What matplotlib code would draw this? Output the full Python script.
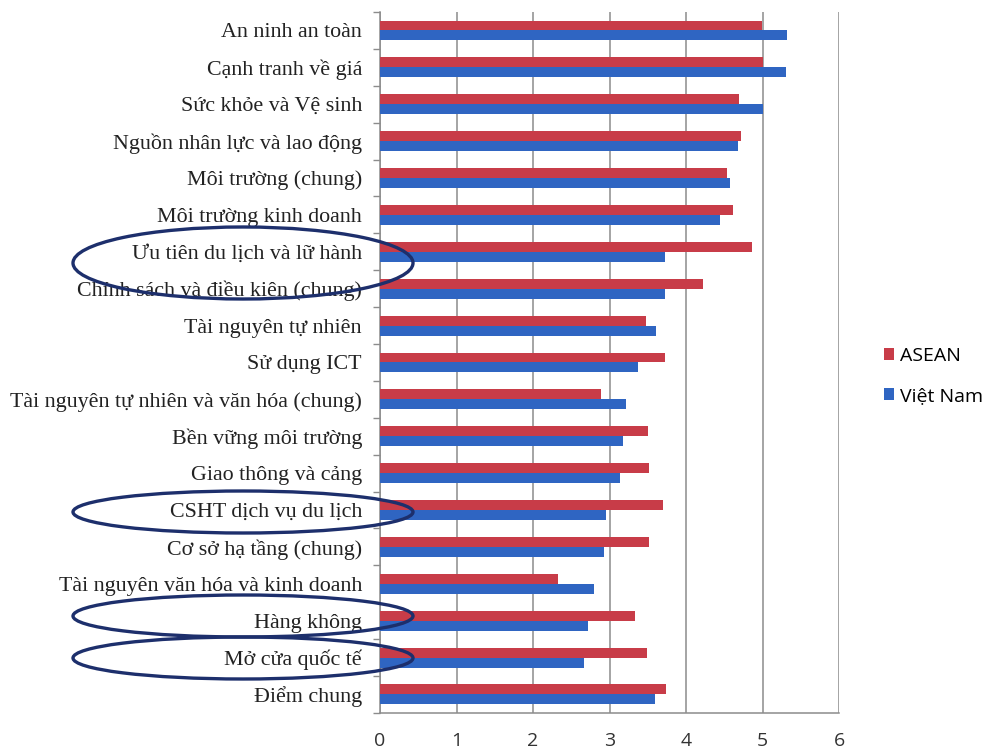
import numpy as np
from matplotlib import pyplot as plt
from matplotlib.patches import Ellipse

categories = [
    "An ninh an toàn",
    "Cạnh tranh về giá",
    "Sức khỏe và Vệ sinh",
    "Nguồn nhân lực và lao động",
    "Môi trường (chung)",
    "Môi trường kinh doanh",
    "Ưu tiên du lịch và lữ hành",
    "Chính sách và điều kiện (chung)",
    "Tài nguyên tự nhiên",
    "Sử dụng ICT",
    "Tài nguyên tự nhiên và văn hóa (chung)",
    "Bền vững môi trường",
    "Giao thông và cảng",
    "CSHT dịch vụ du lịch",
    "Cơ sở hạ tầng (chung)",
    "Tài nguyên văn hóa và kinh doanh",
    "Hàng không",
    "Mở cửa quốc tế",
    "Điểm chung",
]
asean = [4.99, 5.01, 4.69, 4.72, 4.54, 4.61, 4.86, 4.22, 3.47, 3.73,
         2.89, 3.50, 3.52, 3.70, 3.52, 2.32, 3.33, 3.49, 3.74]
vietnam = [5.32, 5.30, 5.00, 4.68, 4.57, 4.45, 3.73, 3.73, 3.61, 3.37,
           3.21, 3.17, 3.14, 2.95, 2.93, 2.80, 2.72, 2.67, 3.59]
circled = ["Ưu tiên du lịch và lữ hành", "CSHT dịch vụ du lịch",
           "Hàng không", "Mở cửa quốc tế"]

red = "#c83c48"
blue = "#2f65c2"
grid = "#8c8c8c"

fig = plt.figure(figsize=(9.83, 7.52), dpi=100)
ax = fig.add_axes((0.3866, 0.052, 0.467, 0.932))

n = len(categories)
y = np.arange(n)[::-1]
h = 0.27
ax.barh(y + h / 2, asean, height=h, color=red, label="ASEAN", zorder=3)
ax.barh(y - h / 2, vietnam, height=h, color=blue, label="Việt Nam", zorder=3)

ax.set_xlim(0, 6)
ax.set_ylim(-0.5, n - 0.5)
ax.set_xticks(range(7))
ax.xaxis.grid(True, color=grid, lw=1.1, zorder=0)
ax.tick_params(axis="x", length=0, pad=14, labelsize=14, labelcolor="#333333")
for lab in ax.get_xticklabels():
    lab.set_family("Open Sans")

ax.set_yticks(y)
ax.set_yticklabels(categories, family="Liberation Serif", fontsize=15.8, color="#222222")
ax.set_yticks(np.arange(n + 1) - 0.5, minor=True)
ax.tick_params(axis="y", which="major", length=0, pad=13)
ax.tick_params(axis="y", which="minor", length=5, color=grid, width=1)

for s in ["top", "right"]:
    ax.spines[s].set_visible(False)
for s in ["left", "bottom"]:
    ax.spines[s].set_color(grid)
    ax.spines[s].set_linewidth(1.1)

fig.legend(
    loc="center left",
    bbox_to_anchor=(0.881, 0.5),
    frameon=False,
    prop={"family": "Open Sans", "size": 14},
    handlelength=0.55,
    handleheight=0.55,
    handletextpad=0.3,
    labelspacing=1.15,
)

# hand-drawn ellipses around the highlighted labels
W, H = 983, 752
ell = {
    "Ưu tiên du lịch và lữ hành": (243, 263, 340, 72),
    "CSHT dịch vụ du lịch": (243, 512, 340, 42),
    "Hàng không": (243, 616, 340, 42),
    "Mở cửa quốc tế": (243, 658, 340, 42),
}
for name in circled:
    cx, cy, ew, eh = ell[name]
    fig.add_artist(
        Ellipse(
            (cx / W, 1 - cy / H), ew / W, eh / H,
            transform=fig.transFigure, fill=False, ec="#1d2f6c", lw=2.4,
        )
    )

fig.savefig("out.png", dpi=100)
